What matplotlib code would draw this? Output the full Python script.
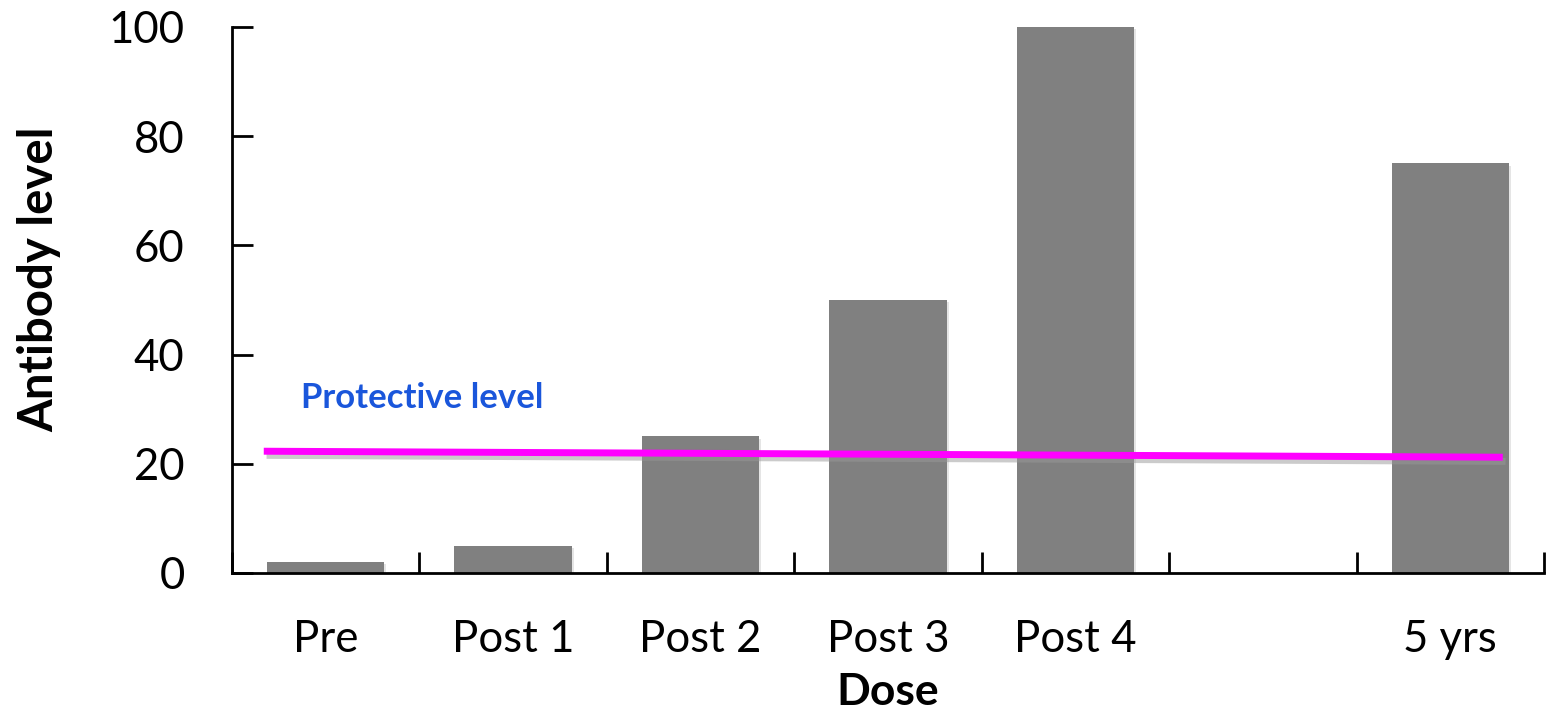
import numpy as np
import matplotlib
matplotlib.use("Agg")
import matplotlib.pyplot as plt
import matplotlib.patheffects as pe

plt.rcParams["font.family"] = ["Lato", "DejaVu Sans"]

doses = ["Pre", "Post 1", "Post 2", "Post 3", "Post 4", "", "5 yrs"]
antibody = [2, 5, 25, 50, 100, 0, 75]
protect_x = [-0.33, 6.28]
protect_y = [22.3, 21.2]

fig = plt.figure(figsize=(15.46, 7.10), dpi=100)
ax = fig.add_axes([0.150, 0.193, 0.8487, 0.769])

x = np.arange(len(doses))
bars = ax.bar(x, antibody, width=0.625, color="#808080", zorder=2)
for b in bars:
    b.set_path_effects([pe.SimplePatchShadow(offset=(1.5, -1.5), shadow_rgbFace="#cccccc", alpha=0.5), pe.Normal()])

ax.plot(protect_x, protect_y, color="#ff00ff", lw=5, solid_capstyle="butt", zorder=3,
        path_effects=[pe.SimpleLineShadow(offset=(2, -3), shadow_color="#999999", alpha=0.5), pe.Normal()])
ax.text(-0.13, 32, "Protective level", color="#1a56db", fontsize=25, fontweight="bold",
        va="center", ha="left")

ax.set_xlim(-0.5, 6.5)
ax.set_ylim(0, 100)
ax.set_yticks([0, 20, 40, 60, 80, 100])
ax.set_xticks(x)
ax.set_xticklabels(doses)
ax.set_xticks(np.arange(-0.5, 7, 1), minor=True)
ax.tick_params(axis="x", which="major", length=0, pad=33, labelsize=31.5)
ax.tick_params(axis="x", which="minor", direction="in", length=15, width=2)
ax.tick_params(axis="y", direction="in", length=15, width=2, pad=34, labelsize=31.5)

for s in ["top", "right"]:
    ax.spines[s].set_visible(False)
for s in ["left", "bottom"]:
    ax.spines[s].set_linewidth(2)

ax.set_xlabel("Dose", fontsize=32, fontweight="bold", labelpad=9)
ax.set_ylabel("Antibody level", fontsize=34, fontweight="bold")
ax.yaxis.set_label_coords(-0.130, 0.538)

fig.savefig("out.png", dpi=100)
